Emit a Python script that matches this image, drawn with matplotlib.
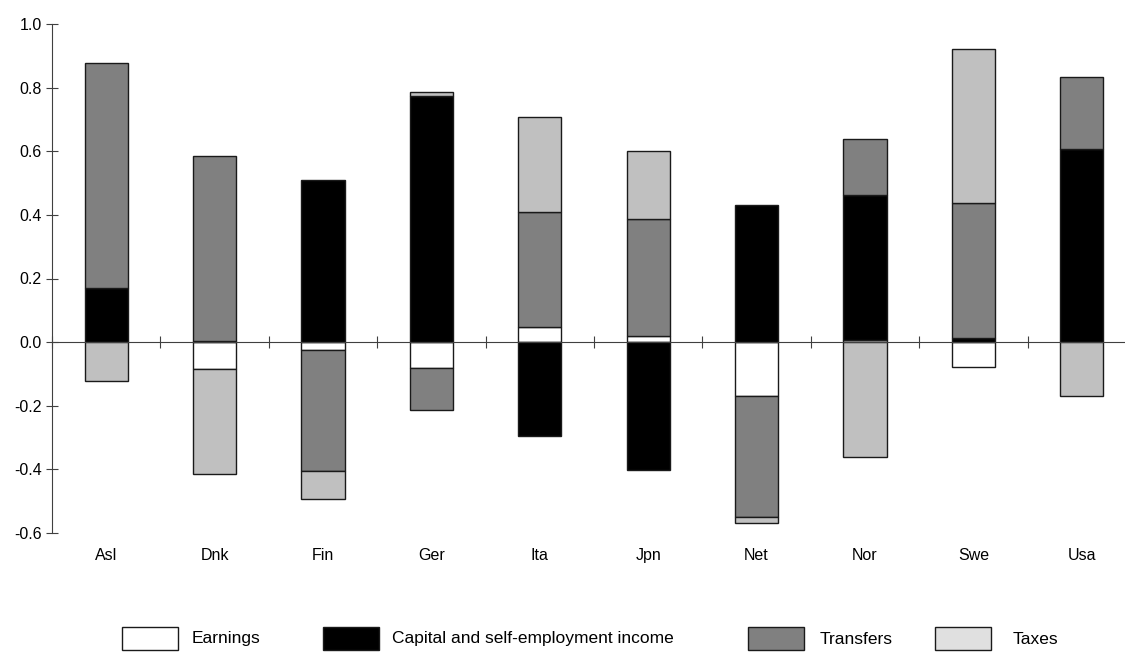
import numpy as np
import matplotlib.pyplot as plt
from matplotlib.patches import Rectangle

plt.rcParams['font.family'] = ['Liberation Sans', 'DejaVu Sans']

countries = ['Asl', 'Dnk', 'Fin', 'Ger', 'Ita', 'Jpn', 'Net', 'Nor', 'Swe', 'Usa']
earnings = [0.0, -0.083, -0.025, -0.081, 0.048, 0.019, -0.169, 0.008, -0.078, 0.0]
capital = [0.171, 0.005, 0.509, 0.774, -0.294, -0.403, 0.432, 0.454, 0.012, 0.607]
transfers = [0.705, 0.581, -0.381, -0.133, 0.362, 0.368, -0.380, 0.176, 0.425, 0.225]
taxes = [-0.123, -0.330, -0.086, 0.013, 0.299, 0.213, -0.021, -0.362, 0.485, -0.170]

series = [
    ('Earnings', earnings, 'white'),
    ('Capital and self-employment income', capital, 'black'),
    ('Transfers', transfers, '#808080'),
    ('Taxes', taxes, '#c0c0c0'),
]

W, H = 1125, 652
fig = plt.figure(figsize=(W / 100, H / 100), dpi=100)
ax = fig.add_axes([52 / W, 1 - 533 / H, 1084 / W, 509 / H])

x = np.arange(len(countries)) + 0.5
pos_base = np.zeros(len(countries))
neg_base = np.zeros(len(countries))
for name, vals, color in series:
    vals = np.array(vals)
    bottom = np.where(vals >= 0, pos_base, neg_base)
    ax.bar(x, vals, width=0.4, bottom=bottom, color=color,
           edgecolor='#1a1a1a', linewidth=1.0, label=name)
    pos_base = pos_base + np.clip(vals, 0, None)
    neg_base = neg_base + np.clip(vals, None, 0)

ax.set_xlim(0, len(countries))
ax.set_ylim(-0.6, 1.0)
yt = np.arange(-0.6, 1.01, 0.2)
ax.set_yticks(yt)
ax.set_yticklabels([f'{v:.1f}' for v in yt])
ax.set_xticks(np.arange(0, len(countries) + 1))
ax.set_xticklabels([])

for s in ['top', 'right']:
    ax.spines[s].set_visible(False)
ax.spines['bottom'].set_position(('data', 0))
for s in ['left', 'bottom']:
    ax.spines[s].set_color('#404040')
    ax.spines[s].set_linewidth(0.8)
ax.tick_params(axis='both', direction='inout', length=9, width=0.8,
               color='#404040', labelsize=11.5, pad=3)

for xi, c in zip(x, countries):
    ax.text(xi, -0.045, c, transform=ax.get_xaxis_transform(),
            ha='center', va='center', fontsize=11.5)

# legend drawn by hand: boxes and labels at the reference's positions
legend_colors = ['white', 'black', '#808080', '#e0e0e0']
box_left = [122, 323, 748, 935]
text_left = [192, 392, 820, 1013]
for (name, _, _), col, bx, tx in zip(series, legend_colors, box_left, text_left):
    fig.add_artist(Rectangle((bx / W, 1 - 650 / H), 56 / W, 23 / H,
                             transform=fig.transFigure, facecolor=col,
                             edgecolor='#1a1a1a', linewidth=1.0))
    fig.text(tx / W, 1 - 639 / H, name, ha='left', va='center', fontsize=12.5)

fig.savefig('out.png', dpi=100)
